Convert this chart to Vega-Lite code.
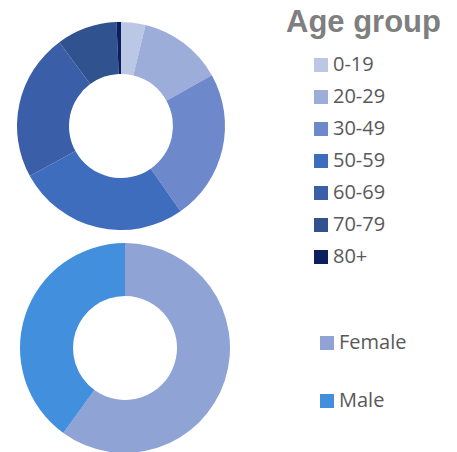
{
  "$schema": "https://vega.github.io/schema/vega-lite/v6.json",
  "background": "white",
  "padding": {"left": 16, "top": 8, "right": 0, "bottom": 0},
  "config": {"view": {"stroke": null}},
  "bounds": "flush",
  "spacing": 12,
  "resolve": {"scale": {"color": "independent"}, "legend": {"color": "independent"}},
  "vconcat": [
    {
      "width": 210,
      "height": 210,
      "data": {"values": [
        {"age": "0-19", "share": 3.8, "order": 1},
        {"age": "20-29", "share": 13.1, "order": 2},
        {"age": "30-49", "share": 23.4, "order": 3},
        {"age": "50-59", "share": 26.7, "order": 4},
        {"age": "60-69", "share": 22.9, "order": 5},
        {"age": "70-79", "share": 9.4, "order": 6},
        {"age": "80+", "share": 0.7, "order": 7}
      ]},
      "mark": {"type": "arc", "outerRadius": 104, "innerRadius": 52},
      "encoding": {
        "theta": {"field": "share", "type": "quantitative", "stack": true},
        "order": {"field": "order", "type": "quantitative"},
        "color": {
          "field": "age",
          "type": "nominal",
          "scale": {
            "domain": ["0-19", "20-29", "30-49", "50-59", "60-69", "70-79", "80+"],
            "range": ["#BCC7E5", "#9DADD9", "#6D89CC", "#3F6DBD", "#3A5FA8", "#30528F", "#0B1F5E"]
          },
          "legend": {
            "title": "Age group",
            "orient": "none",
            "legendX": 270,
            "legendY": -13,
            "padding": 0,
            "titleFont": "Liberation Sans",
            "titleFontSize": 31,
            "titleFontWeight": "bold",
            "titleColor": "#7f7f7f",
            "titlePadding": 16,
            "labelFont": "Open Sans",
            "labelFontSize": 20,
            "labelColor": "#595959",
            "symbolType": "square",
            "symbolSize": 196,
            "symbolStrokeWidth": 0,
            "symbolOpacity": 1,
            "symbolOffset": 25,
            "labelOffset": 2,
            "rowPadding": 12
          }
        }
      }
    },
    {
      "width": 218,
      "height": 210,
      "data": {"values": [
        {"gender": "Female", "share": 60, "order": 1},
        {"gender": "Male", "share": 40, "order": 2}
      ]},
      "mark": {"type": "arc", "outerRadius": 105, "innerRadius": 52},
      "encoding": {
        "theta": {"field": "share", "type": "quantitative", "stack": true},
        "order": {"field": "order", "type": "quantitative"},
        "color": {
          "field": "gender",
          "type": "nominal",
          "scale": {"domain": ["Female", "Male"], "range": ["#8FA3D4", "#428FDE"]},
          "legend": {
            "title": null,
            "orient": "none",
            "legendX": 301,
            "legendY": 90,
            "padding": 0,
            "labelFont": "Open Sans",
            "labelFontSize": 20,
            "labelColor": "#595959",
            "symbolType": "square",
            "symbolSize": 196,
            "symbolStrokeWidth": 0,
            "symbolOpacity": 1,
            "labelOffset": 2,
            "rowPadding": 38
          }
        }
      }
    }
  ]
}
